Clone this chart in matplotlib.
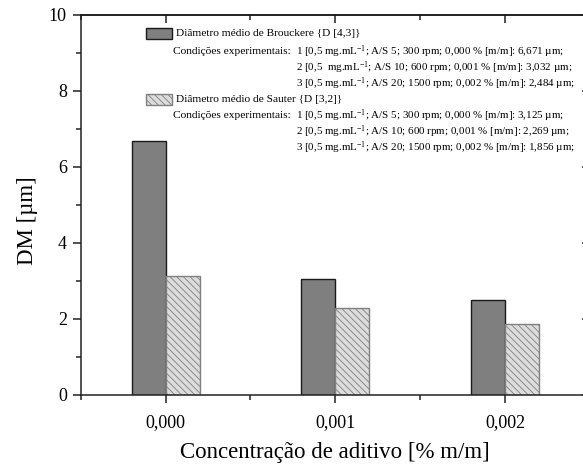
import numpy as np
import matplotlib
matplotlib.use('Agg')
import matplotlib.pyplot as plt
from matplotlib.patches import Rectangle
from matplotlib.ticker import MultipleLocator

plt.rcParams['font.family'] = 'Liberation Serif'
plt.rcParams['mathtext.fontset'] = 'custom'
plt.rcParams['mathtext.rm'] = 'Liberation Serif'
plt.rcParams['mathtext.it'] = 'Liberation Serif:italic'
plt.rcParams['hatch.linewidth'] = 0.6

# concentracao de aditivo (% m/m)
conc = [0.000, 0.001, 0.002]
conc_labels = ['0,000', '0,001', '0,002']
# diametros medios (um)
d43 = [6.671, 3.032, 2.484]
d32 = [3.125, 2.269, 1.856]

sup = r'$^{\mathregular{-1}}$'
cond_d43 = ['1 [0,5 mg.mL' + sup + '; A/S 5; 300 rpm; 0,000 % [m/m]: 6,671 µm;',
            '2 [0,5  mg.mL' + sup + '; A/S 10; 600 rpm; 0,001 % [m/m]: 3,032 µm;',
            '3 [0,5 mg.mL' + sup + '; A/S 20; 1500 rpm; 0,002 % [m/m]: 2,484 µm;']
cond_d32 = ['1 [0,5 mg.mL' + sup + '; A/S 5; 300 rpm; 0,000 % [m/m]: 3,125 µm;',
            '2 [0,5 mg.mL' + sup + '; A/S 10; 600 rpm; 0,001 % [m/m]: 2,269 µm;',
            '3 [0,5 mg.mL' + sup + '; A/S 20; 1500 rpm; 0,002 % [m/m]: 1,856 µm;']

W, H = 583, 468
fig = plt.figure(figsize=(W / 100, H / 100), dpi=100)
ax = fig.add_axes([80.7 / W, 1 - 394.5 / H, (590 - 80.7) / W, (394.5 - 14.7) / H])

bw = 0.0002
x = np.array(conc)
ax.bar(x - bw / 2, d43, width=bw, color='#7f7f7f', edgecolor='#1a1a1a', linewidth=1.0)
ax.bar(x + bw / 2, d32, width=bw, color='#dcdcdc', edgecolor='#808080', linewidth=1.0,
       hatch='\\\\\\\\\\')

ax.set_xlim(-0.0005, 0.0025)
ax.set_ylim(0, 10)
ax.set_xticks(conc)
ax.set_xticklabels(conc_labels)
ax.xaxis.set_minor_locator(MultipleLocator(0.0005))
ax.yaxis.set_major_locator(MultipleLocator(2))
ax.yaxis.set_minor_locator(MultipleLocator(1))

for s in ax.spines.values():
    s.set_linewidth(1.1)
    s.set_color('#222222')
ax.tick_params(which='both', direction='out', labelsize=13, width=1.1, color='#222222')
ax.tick_params(which='major', length=6)
ax.tick_params(which='minor', length=3.5)
ax.tick_params(axis='x', which='both', pad=8)
ax.tick_params(axis='y', which='both', pad=4)

# ticks internos no topo e na direita
top = ax.secondary_xaxis('top')
top.set_xticks(conc)
top.xaxis.set_minor_locator(MultipleLocator(0.0005))
top.tick_params(which='both', direction='in', labeltop=False, width=1.1, color='#222222')
top.tick_params(which='major', length=6)
top.tick_params(which='minor', length=3.5)
top.spines['top'].set_linewidth(1.1)
right = ax.secondary_yaxis('right')
right.yaxis.set_major_locator(MultipleLocator(2))
right.yaxis.set_minor_locator(MultipleLocator(1))
right.tick_params(which='both', direction='in', labelright=False, width=1.1, color='#222222')
right.tick_params(which='major', length=6)
right.tick_params(which='minor', length=3.5)

ax.set_xlabel('Concentração de aditivo [% m/m]', fontsize=16.5, labelpad=8)
ax.set_ylabel('DM [µm]', fontsize=16.5)
ax.yaxis.set_label_coords(-0.083, 0.457)


def px(xp, yp):
    return xp / W, 1 - yp / H


fs = 8.2
fs_cond = 7.95
# legenda desenhada a mao
fig.patches.append(Rectangle(px(146, 39), 26 / W, 11 / H, transform=fig.transFigure,
                             facecolor='#7f7f7f', edgecolor='#1a1a1a', linewidth=1.0))
fig.text(*px(176, 34), 'Diâmetro médio de Brouckere {D [4,3]}', fontsize=fs, va='center')
fig.text(*px(173, 52), 'Condições experimentais:', fontsize=fs, va='center')
for s, yy in zip(cond_d43, [52, 68, 84]):
    fig.text(*px(296, yy), s, fontsize=fs_cond, va='center')

fig.patches.append(Rectangle(px(146, 105), 26 / W, 11 / H, transform=fig.transFigure,
                             facecolor='#dcdcdc', edgecolor='#808080', linewidth=1.0,
                             hatch='\\\\\\\\\\'))
fig.text(*px(176, 100), 'Diâmetro médio de Sauter {D [3,2]}', fontsize=fs, va='center')
fig.text(*px(173, 116), 'Condições experimentais:', fontsize=fs, va='center')
for s, yy in zip(cond_d32, [116, 132, 148]):
    fig.text(*px(296, yy), s, fontsize=fs_cond, va='center')

fig.savefig('out.png', dpi=100)
